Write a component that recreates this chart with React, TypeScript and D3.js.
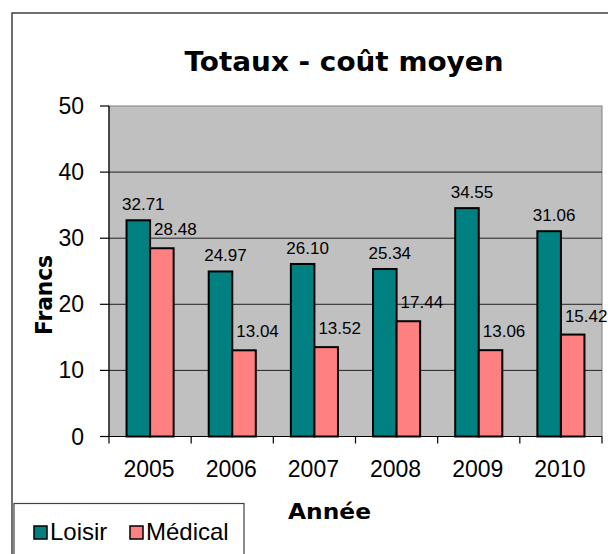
import React from 'react';
import * as d3 from 'd3';

const years = ['2005', '2006', '2007', '2008', '2009', '2010'];
const loisir = [32.71, 24.97, 26.1, 25.34, 34.55, 31.06];
const medical = [28.48, 13.04, 13.52, 17.44, 13.06, 15.42];
const seriesNames = ['Loisir', 'Médical'];
const yTicks = [0, 10, 20, 30, 40, 50];

const W = 608;
const H = 554;
const plot = { left: 109, right: 602, top: 106, bottom: 436.5 };
const colors: Record<string, string> = { Loisir: '#008080', 'Médical': '#FF8080' };
const numFont = '"Liberation Sans", Arial, sans-serif';
const titleFont = '"Century Gothic", "DejaVu Sans", sans-serif';

function App() {
  const x = d3.scaleBand().domain(years).range([plot.left, plot.right]);
  const x1 = d3.scaleBand().domain(seriesNames).range([0, x.bandwidth()]).paddingOuter(0.745);
  const y = d3.scaleLinear().domain([0, 50]).range([plot.bottom, plot.top]);

  const rows = years.map((yr, i) => ({ yr, vals: [loisir[i], medical[i]] }));
  const fmt = d3.format('.2f');
  const edges = years.map(yr => x(yr) as number).concat([plot.right]);

  return (
    <svg width={W} height={H} style={{ position: 'absolute', left: 0, top: 0 }}>
      <rect x={0} y={0} width={W} height={H} fill="#fff" />
      {/* chart frame, clipped on right and bottom */}
      <rect x={12} y={13} width={W + 20} height={H + 20} fill="none" stroke="#404040" strokeWidth={1.5} />

      <text x={344} y={71} textAnchor="middle" fontFamily={titleFont} fontWeight="bold" fontSize={27}
        textLength={319} lengthAdjust="spacingAndGlyphs">Totaux - coût moyen</text>

      {/* plot area */}
      <rect x={plot.left} y={plot.top} width={plot.right - plot.left} height={plot.bottom - plot.top}
        fill="#C0C0C0" stroke="#808080" strokeWidth={1} />
      {yTicks.filter(t => t > 0 && t < 50).map(t => (
        <line key={t} x1={plot.left} x2={plot.right} y1={y(t)} y2={y(t)} stroke="#222" strokeWidth={1} />
      ))}

      {/* bars */}
      {rows.map(r => (
        <g key={r.yr} transform={`translate(${x(r.yr)},0)`}>
          {r.vals.map((v, j) => (
            <rect key={j} x={x1(seriesNames[j])} y={y(v)} width={x1.bandwidth()} height={y(0) - y(v)}
              fill={colors[seriesNames[j]]} stroke="#000" strokeWidth={2} />
          ))}
        </g>
      ))}

      {/* data labels */}
      {rows.map(r => r.vals.map((v, j) => {
        const bx = (x(r.yr) as number) + (x1(seriesNames[j]) as number);
        const isL = j === 0;
        return (
          <text key={r.yr + j} x={isL ? bx + x1.bandwidth() / 2 + 5 : bx + 4} y={y(v) - (isL ? 10 : 13)}
            textAnchor={isL ? 'middle' : 'start'} fontFamily={numFont} fontSize={17} fill="#000">{fmt(v)}</text>
        );
      }))}

      {/* axes */}
      <line x1={plot.left} x2={plot.left} y1={plot.top} y2={plot.bottom} stroke="#000" strokeWidth={1.2} />
      <line x1={plot.left} x2={plot.right} y1={plot.bottom} y2={plot.bottom} stroke="#000" strokeWidth={1.2} />
      {yTicks.map(t => (
        <g key={t}>
          <line x1={plot.left - 9} x2={plot.left} y1={y(t)} y2={y(t)} stroke="#000" strokeWidth={1.2} />
          <text x={84} y={y(t) + 8} textAnchor="end" fontFamily={numFont} fontSize={23}>{t}</text>
        </g>
      ))}
      {edges.map((e, i) => (
        <line key={i} x1={e} x2={e} y1={plot.bottom} y2={plot.bottom + 7} stroke="#000" strokeWidth={1.2} />
      ))}
      {years.map(yr => (
        <text key={yr} x={(x(yr) as number) + x.bandwidth() / 2 - 1} y={477} textAnchor="middle"
          fontFamily={numFont} fontSize={23}>{yr}</text>
      ))}

      <text x={329.5} y={519} textAnchor="middle" fontFamily={titleFont} fontWeight="bold" fontSize={22}
        textLength={83} lengthAdjust="spacingAndGlyphs">Année</text>
      <text transform="translate(52,295) rotate(-90)" textAnchor="middle" fontFamily={titleFont}
        fontWeight="bold" fontSize={23} textLength={80} lengthAdjust="spacingAndGlyphs">Francs</text>

      {/* legend */}
      <rect x={14} y={503.5} width={230} height={80} fill="#fff" stroke="#404040" strokeWidth={1.2} />
      {seriesNames.map((s, i) => {
        const lx = i === 0 ? 34 : 130;
        return (
          <g key={s}>
            <rect x={lx} y={526} width={13} height={13} fill={colors[s]} stroke="#000" strokeWidth={1.5} />
            <text x={lx + 16} y={540} fontFamily={numFont} fontSize={24}>{s}</text>
          </g>
        );
      })}
    </svg>
  );
}

export default App;
